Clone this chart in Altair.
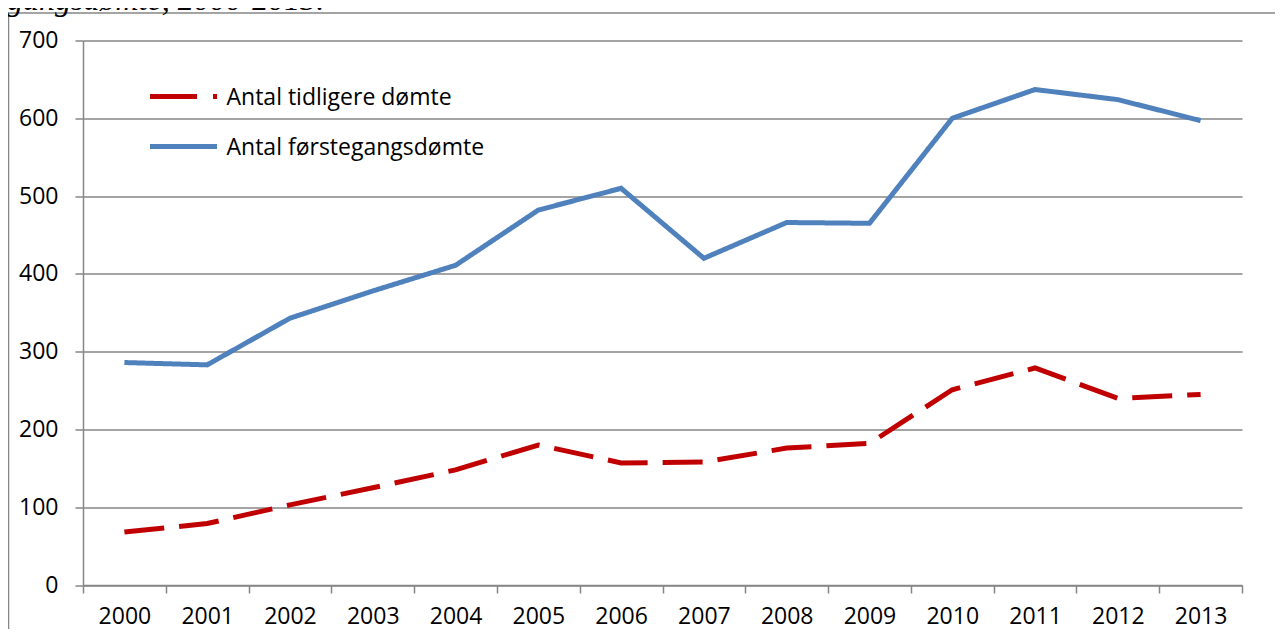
import altair as alt
import pandas as pd

years = [str(y) for y in range(2000, 2014)]
tidligere = [68, 79, 103, 125, 148, 180, 157, 158, 176, 182, 251, 279, 240, 245]
forstegang = [286, 283, 343, 378, 411, 482, 510, 420, 466, 465, 600, 637, 624, 597]
series_names = ["Antal tidligere dømte", "Antal førstegangsdømte"]
series_colors = ["#C00000", "#4F81BD"]
y_ticks = [0, 100, 200, 300, 400, 500, 600, 700]
title_text = "gangsdømte, 2000-2013."

rows = []
for y, v in zip(years, tidligere):
    rows.append({"year": y, "value": v, "series": series_names[0]})
for y, v in zip(years, forstegang):
    rows.append({"year": y, "value": v, "series": series_names[1]})
df = pd.DataFrame(rows)

FONT = "Open Sans"
GRAY = "#868686"

lines = alt.Chart(df).mark_line(strokeWidth=5).encode(
    x=alt.X("year:N", sort=years,
            scale=alt.Scale(type="band", paddingInner=0, paddingOuter=0),
            axis=alt.Axis(title=None, labelAngle=0, tickBand="extent", grid=False,
                          tickSize=8, labelPadding=30, labelBaseline="alphabetic")),
    y=alt.Y("value:Q", scale=alt.Scale(domain=[0, 700], nice=False),
            axis=alt.Axis(title=None, values=y_ticks, grid=True, tickSize=8,
                          labelPadding=17)),
    color=alt.Color("series:N", scale=alt.Scale(domain=series_names, range=series_colors), legend=None),
    strokeDash=alt.StrokeDash("series:N",
                              scale=alt.Scale(domain=series_names, range=[[40, 15], [1, 0]]),
                              legend=None),
)

one = pd.DataFrame({"k": [0]})

border = alt.Chart(one).mark_rect(filled=False, stroke=GRAY, strokeWidth=1.5).encode(
    x=alt.value(-74.5), x2=alt.value(1400), y=alt.value(-27.5), y2=alt.value(800)
)

title = alt.Chart(one).mark_text(
    text=title_text, font="Liberation Serif", fontStyle="italic", fontSize=32,
    align="left", baseline="alphabetic", color="black"
).encode(x=alt.value(-76), y=alt.value(-30.5))

leg_df = pd.DataFrame({"series": series_names, "ly": [56, 106]})

leg_red = alt.Chart(leg_df.iloc[[0]]).mark_rule(strokeWidth=5, strokeDash=[47, 16], color=series_colors[0]).encode(
    x=alt.value(67), x2=alt.value(134), y=alt.Y("ly:Q", scale=None)
)
leg_blue = alt.Chart(leg_df.iloc[[1]]).mark_rule(strokeWidth=5, color=series_colors[1]).encode(
    x=alt.value(67), x2=alt.value(134), y=alt.Y("ly:Q", scale=None)
)
leg_text = alt.Chart(leg_df).mark_text(font=FONT, fontSize=23, align="left", baseline="middle", color="black", dy=1).encode(
    x=alt.value(143.5), y=alt.Y("ly:Q", scale=None), text="series:N"
)

chart = alt.layer(border, title, lines, leg_red, leg_blue, leg_text).properties(
    width=1159, height=544.5,
    padding={"left": 75, "top": 32.5, "right": 33, "bottom": 44},
    autosize=alt.AutoSizeParams(type="none"),
    background="white",
).configure_view(stroke=None).configure_axis(
    labelFont=FONT, labelFontSize=23, labelColor="black",
    domainColor=GRAY, domainWidth=1.5, tickColor=GRAY, tickWidth=1.5,
    gridColor=GRAY, gridWidth=1.5,
)

chart.save("out.html", embed_options={"renderer": "svg", "actions": False})
